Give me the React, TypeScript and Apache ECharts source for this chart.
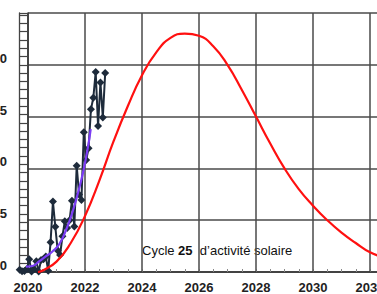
import React, { useEffect, useRef } from "react";
import * as echarts from "echarts";

// Observed monthly sunspot numbers (dark line with diamonds)
const obsMonths = [
  "2019-09", "2019-10", "2019-11", "2019-12",
  "2020-01", "2020-02", "2020-03", "2020-04", "2020-05", "2020-06",
  "2020-07", "2020-08", "2020-09", "2020-10", "2020-11", "2020-12",
  "2021-01", "2021-02", "2021-03", "2021-04", "2021-05", "2021-06",
  "2021-07", "2021-08", "2021-09", "2021-10", "2021-11", "2021-12",
  "2022-01", "2022-02", "2022-03", "2022-04", "2022-05", "2022-06",
  "2022-07", "2022-08", "2022-09",
];
const obsValues = [
  1.1, 0.4, 0.5, 1.5,
  6.2, 0.2, 1.5, 5.2, 0.2, 5.8,
  6.1, 7.5, 0.6, 14.4, 34.0, 21.8,
  10.4, 8.2, 17.2, 24.5, 21.2, 25.0,
  34.4, 22.0, 51.3, 37.4, 34.8, 67.5,
  54.0, 59.7, 78.5, 84.1, 96.5, 70.5,
  91.4, 74.6, 96.0,
];

// Smoothed trend (purple)
const trendYears = [2019.7, 2019.95, 2020.15, 2020.4, 2020.6, 2020.85, 2021.1, 2021.37, 2021.54, 2021.75, 2021.93, 2022.1, 2022.2];
const trendValues = [3.8, 2.6, 2.9, 5.2, 7.3, 9.8, 13.5, 21.5, 28, 38, 48, 60, 69];

// Predicted cycle 25 (red)
const predYears = [
  2020.35, 2020.5, 2021, 2021.5, 2022, 2022.5, 2023, 2023.5, 2024, 2024.5, 2025, 2025.5,
  2026, 2026.5, 2027, 2027.5, 2028, 2028.5, 2029, 2029.5, 2030, 2030.5, 2031, 2031.5,
  2032, 2032.5, 2033, 2033.5, 2034,
];
const predValues = [
  0, 0.6, 5, 14, 27, 44, 63, 80, 95, 106, 113, 115,
  114, 109, 100, 88, 75, 62, 50, 40, 32, 25, 19, 14,
  9.5, 7, 5, 3.5, 2.5,
];

const xMin = 2020;
const xMax = 2034;
const xStep = 2;
const yMin = 0;
const yMax = 125;
const yStep = 25;
const yMinorStep = 4;

const titleText = "{a|Cycle }{b|25}{a|  d\u2019activité solaire}";

function monthToYear(m: string): number {
  const [y, mo] = m.split("-").map(Number);
  return y + (mo - 0.5) / 12;
}

export default function App() {
  const ref = useRef<HTMLDivElement>(null);
  useEffect(() => {
    if (!ref.current) return;
    const chart = echarts.init(ref.current, undefined, { renderer: "svg" });
    const obsData = obsMonths.map((m, i) => [monthToYear(m), obsValues[i]]);
    const trendData = trendYears.map((x, i) => [x, trendValues[i]]);
    const predData = predYears.map((x, i) => [x, predValues[i]]);
    const font = "Liberation Sans";
    chart.setOption({
      animation: false,
      backgroundColor: "#ffffff",
      grid: { left: 68, right: 13, top: 13, bottom: 21, containLabel: false },
      xAxis: {
        type: "value",
        min: xMin,
        max: xMax,
        interval: xStep,
        axisLine: { show: true, lineStyle: { color: "#333", width: 1.5 } },
        axisTick: { show: true, inside: true, length: 3, lineStyle: { color: "#666" } },
        minorTick: { show: true, splitNumber: 4, length: 3, lineStyle: { color: "#888", width: 1 } },
        splitLine: { show: true, lineStyle: { color: "#4a4a4a", width: 1.5 } },
        axisLabel: {
          show: true,
          margin: 9,
          fontSize: 13,
          fontWeight: "bold",
          fontFamily: font,
          color: "#222",
          showMinLabel: true,
          showMaxLabel: false,
          formatter: (v: number) => String(v),
        },
      },
      yAxis: [
        {
          type: "value",
          min: yMin,
          max: yMax,
          interval: yStep,
          axisLine: { show: true, lineStyle: { color: "#333", width: 1.5 } },
          axisTick: { show: false },
          splitLine: { show: true, lineStyle: { color: "#4a4a4a", width: 1.5 } },
          axisLabel: {
            show: true,
            margin: 21,
            fontSize: 13,
            fontWeight: "bold",
            fontFamily: font,
            color: "#222",
            verticalAlign: "bottom",
            showMaxLabel: false,
            // only the last digit is visible in the cropped reference
            formatter: (v: number) => String(v % 10),
          },
        },
        {
          type: "value",
          position: "left",
          min: yMin,
          max: yMax,
          interval: yMinorStep,
          axisLine: { show: false },
          axisTick: { show: true, inside: false, length: 9, lineStyle: { color: "#444", width: 1.2 } },
          splitLine: { show: false },
          axisLabel: { show: false },
        },
        {
          type: "value",
          position: "left",
          offset: 9,
          min: yMin,
          max: yMax,
          interval: yStep,
          axisLine: { show: true, lineStyle: { color: "#444", width: 1.3 } },
          axisTick: { show: false },
          splitLine: { show: false },
          axisLabel: { show: false },
        },
      ],
      graphic: [
        {
          type: "text",
          left: 182,
          top: 244,
          style: {
            text: titleText,
            rich: {
              a: { fontSize: 13, fontFamily: font, fill: "#111" },
              b: { fontSize: 13, fontFamily: font, fontWeight: "bold", fill: "#111" },
            },
          },
        },
      ],
      series: [
        {
          type: "line",
          name: "Observé",
          data: obsData,
          yAxisIndex: 0,
          clip: false,
          smooth: false,
          symbol: "diamond",
          symbolSize: 8,
          lineStyle: { color: "#1e2b3b", width: 2 },
          itemStyle: { color: "#1e2b3b" },
          z: 3,
        },
        {
          type: "line",
          name: "Prévision",
          data: predData,
          yAxisIndex: 0,
          smooth: true,
          showSymbol: false,
          symbol: "none",
          lineStyle: { color: "#ff1010", width: 2.2 },
          z: 4,
        },
        {
          type: "line",
          name: "Lissé",
          data: trendData,
          yAxisIndex: 0,
          clip: false,
          smooth: true,
          showSymbol: false,
          symbol: "none",
          lineStyle: { color: "#7b3cf5", width: 2.2 },
          z: 5,
        },
      ],
    });
    return () => chart.dispose();
  }, []);
  return (
    <div
      style={{
        position: "fixed",
        left: 0,
        top: 0,
        width: 377,
        height: 294,
        overflow: "hidden",
        background: "#fff",
      }}
    >
      <div
        ref={ref}
        style={{ position: "absolute", left: -40, top: 0, width: 480, height: 294 }}
      />
    </div>
  );
}
